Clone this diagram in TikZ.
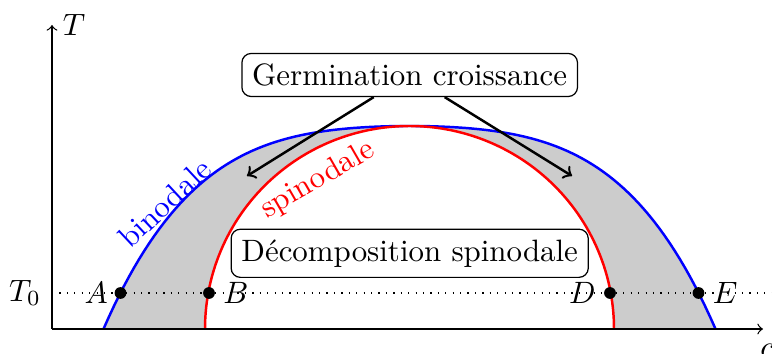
\documentclass[tikz,border=0pt]{standalone}
\usepackage{tikz}
\usetikzlibrary{arrows,calc,positioning}
\definecolor{binColor}{RGB}{0,0,255}
\definecolor{spinColor}{RGB}{255,0,0}
\definecolor{zoneColor}{RGB}{204,204,204}
\tikzset{
    zoneBox/.style={
        rectangle,
        draw,
        fill=white,
        rounded corners=3pt,
        align=center,
        inner sep=3.33pt
    },
    etat/.style={circle, fill=black, inner sep=0pt, minimum size=3.8pt},
    % Curves
    binodale/.style={draw=binColor, thick},
    spinodale/.style={draw=spinColor, thick},
    % Arrows
    fleche/.style={->, thick}
}

\begin{document}
\begin{tikzpicture}[x=0.3235pt, y=0.3235pt]
\useasboundingbox (-52,-25) rectangle (720,329);

% --- Zone between binodale and spinodale ---
\fill[zoneColor]
    plot[domain=-1:1, samples=121] ({357.5+306*\x}, {203*(1-0.27*\x*\x-0.73*\x*\x*\x*\x)})
    -- (562,0)
    -- plot[domain=0:180, samples=121] ({357.5+204.5*cos(\x)}, {203*sin(\x)})
    -- cycle;

% --- Isotherm T0 ---
\draw[dotted] (0,36) node[left] (t0) {$T_0$} -- (725,36);

% --- Curves ---
\draw[binodale] plot[domain=-1:1, samples=121] ({357.5+306*\x}, {203*(1-0.27*\x*\x-0.73*\x*\x*\x*\x)});
\draw[spinodale] plot[domain=0:180, samples=121] ({357.5+204.5*cos(\x)}, {203*sin(\x)});
\node[text=binColor, rotate=43] (lbin) at (113,126) {binodale};
\node[text=spinColor, rotate=30] (lspin) at (266,149) {spinodale};

% --- Axes ---
\draw[->] (0,0) -- (711,0) node[below, xshift=1.3pt, yshift=-1.5pt] (c) {$c$};
\draw[->] (0,0) -- (0,304) node[right] (T) {$T$};

% --- Points on T0 ---
\node[etat] (A) at (68.5,36) {};
\node[etat] (B) at (157,36) {};
\node[etat] (D) at (558,36) {};
\node[etat] (E) at (646.5,36) {};
\node[left=-1.5pt of A] {$A$};
\node[right=-1pt of B] {$B$};
\node[left=-1pt of D] {$D$};
\node[right=-1pt of E] {$E$};

% --- Labels of the zones ---
\node[zoneBox] (germ) at (357.7,254) {Germination croissance};
\node[zoneBox] (decomp) at (357.7,75.7) {D\'ecomposition spinodale};

\coordinate (g1) at (195,153);
\coordinate (g2) at (520,153);
\draw[fleche] ($(germ.south)+(-36,0)$) -- (g1);
\draw[fleche] ($(germ.south)+(35,0)$) -- (g2);

\end{tikzpicture}
\end{document}
